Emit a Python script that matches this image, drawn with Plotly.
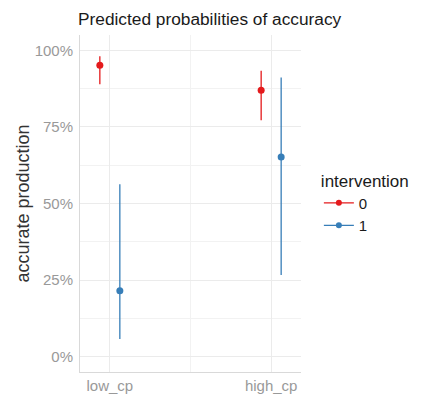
import plotly.graph_objects as go

categories = ["low_cp", "high_cp"]
groups = ["0", "1"]
pred = {"0": [0.951, 0.870], "1": [0.215, 0.652]}
lower = {"0": [0.889, 0.772], "1": [0.058, 0.267]}
upper = {"0": [0.981, 0.933], "1": [0.563, 0.911]}
colors = {"0": "#E41A1C", "1": "#377EB8"}
dodge = {"0": -0.062, "1": 0.062}

y_ticks = [0, 0.25, 0.5, 0.75, 1.0]
y_ticklabels = ["0%", "25%", "50%", "75%", "100%"]

fig = go.Figure()
for g in groups:
    xs = [i + dodge[g] for i in range(len(categories))]
    fig.add_trace(go.Scatter(
        x=xs, y=pred[g], name=g, mode="markers", showlegend=False,
        marker=dict(color=colors[g], size=7),
        error_y=dict(type="data", symmetric=False,
                     array=[u - p for u, p in zip(upper[g], pred[g])],
                     arrayminus=[p - l for p, l in zip(pred[g], lower[g])],
                     color=colors[g], thickness=1.3, width=0),
    ))

# legend entries with line + point glyph
for g in groups:
    fig.add_trace(go.Scatter(
        x=[None], y=[None], name=g, mode="lines+markers",
        line=dict(color=colors[g], width=1.3),
        marker=dict(color=colors[g], size=6),
    ))

# the page body adds an 8px offset, so the figure is 8px smaller than the window
W, H = 414, 388
grid = "#ebebeb"
fig.update_layout(
    width=W, height=H,
    margin=dict(l=72, r=120, t=27, b=24),
    paper_bgcolor="white", plot_bgcolor="white",
    font=dict(family="Liberation Sans, Arial, sans-serif"),
    title=dict(text="Predicted probabilities of accuracy", x=70 / W, xanchor="left",
               y=1 - 11 / H, yanchor="middle", automargin=False,
               font=dict(size=17.3, color="#1a1a1a")),
    showlegend=True,
    legend=dict(title=dict(text="intervention", font=dict(size=17, color="#1a1a1a")),
                x=1.076, xanchor="left", y=0.50, yanchor="middle",
                font=dict(size=15, color="#1a1a1a"), tracegroupgap=0,
                itemwidth=30),
    xaxis=dict(range=[-0.185, 1.185], tickmode="array", tickvals=[0, 1],
               ticktext=categories, showgrid=True, gridcolor=grid, gridwidth=1,
               minor=dict(tickmode="array", tickvals=[0.5], showgrid=True,
                          gridcolor="#f2f2f2", gridwidth=0.8),
               zeroline=False, showline=True, linecolor="#d9d9d9", linewidth=1,
               ticks="", tickfont=dict(size=15, color="#999999"), fixedrange=True,
               automargin=False),
    yaxis=dict(range=[-0.05, 1.05], tickmode="array", tickvals=y_ticks,
               ticktext=y_ticklabels, showgrid=True, gridcolor=grid, gridwidth=1,
               minor=dict(tickmode="array", tickvals=[0.125, 0.375, 0.625, 0.875],
                          showgrid=True, gridcolor="#f2f2f2", gridwidth=0.8),
               zeroline=False, showline=True, linecolor="#d9d9d9", linewidth=1,
               ticks="", ticklabelstandoff=3, tickfont=dict(size=15, color="#999999"),
               title=dict(text="accurate production", font=dict(size=18, color="#333333"),
                          standoff=0),
               fixedrange=True, automargin=False),
)

fig.write_html("out.html")
